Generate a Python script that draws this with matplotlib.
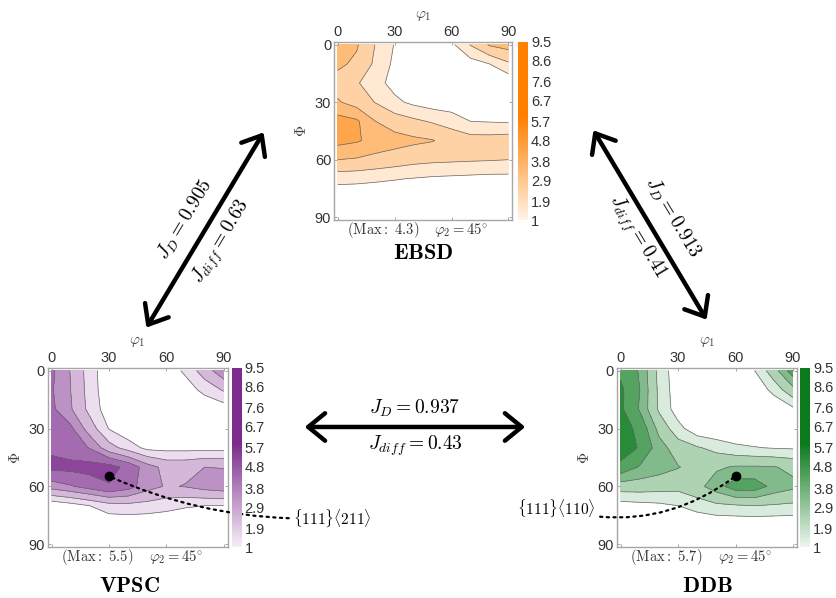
import numpy as np
import matplotlib
matplotlib.use("Agg")
import matplotlib.pyplot as plt
from matplotlib.colors import LinearSegmentedColormap, Normalize
from matplotlib.cm import ScalarMappable
from matplotlib.patches import FancyArrowPatch

plt.rcParams["mathtext.fontset"] = "cm"
plt.rcParams["font.family"] = ["Liberation Sans", "DejaVu Sans"]

# grid of the ODF sections (phi2 = 45 deg), every 10 deg
phi1 = [0, 10, 20, 30, 40, 50, 60, 70, 80, 90]
Phi = [0, 10, 20, 30, 40, 50, 60, 70, 80, 90]

ebsd_odf = [
    [3.7, 3.0, 1.85, 0.95, 0.5, 0.4, 0.8, 1.95, 3.0, 3.3],
    [3.1, 2.7, 1.7, 0.8, 0.4, 0.3, 0.4, 0.6, 1.0, 1.75],
    [2.5, 2.0, 1.3, 0.7, 0.35, 0.3, 0.3, 0.3, 0.3, 0.3],
    [3.0, 2.5, 1.85, 1.2, 0.8, 0.55, 0.45, 0.4, 0.4, 0.4],
    [4.2, 3.95, 2.9, 2.4, 2.1, 1.8, 1.5, 1.0, 0.95, 0.9],
    [4.1, 3.9, 3.5, 3.3, 3.1, 2.95, 2.5, 2.3, 2.3, 2.4],
    [2.9, 2.8, 2.6, 2.4, 2.2, 2.1, 2.05, 2.0, 1.96, 1.9],
    [1.3, 1.25, 1.15, 1.05, 0.95, 0.85, 0.8, 0.75, 0.7, 0.7],
    [0.3, 0.3, 0.3, 0.3, 0.3, 0.3, 0.3, 0.3, 0.3, 0.3],
    [0.2, 0.2, 0.2, 0.2, 0.2, 0.2, 0.2, 0.2, 0.2, 0.2],
]

vpsc_odf = [
    [4.0, 2.85, 1.45, 0.3, 0.1, 0.1, 0.4, 1.2, 2.4, 3.6],
    [3.9, 2.9, 1.5, 0.35, 0.1, 0.1, 0.1, 0.5, 1.3, 2.0],
    [4.0, 3.0, 1.6, 0.5, 0.1, 0.1, 0.1, 0.1, 0.2, 0.5],
    [4.3, 4.0, 2.4, 0.95, 0.3, 0.2, 0.2, 0.2, 0.2, 0.2],
    [4.6, 4.3, 3.75, 2.3, 1.5, 0.75, 0.7, 0.7, 0.7, 0.7],
    [5.1, 5.1, 5.2, 5.2, 4.5, 3.3, 2.6, 2.6, 2.9, 2.85],
    [3.3, 3.7, 4.2, 4.7, 4.2, 3.3, 2.8, 2.95, 3.3, 3.5],
    [0.3, 0.6, 1.0, 1.5, 1.6, 1.5, 1.3, 1.1, 1.0, 1.0],
    [0.1, 0.2, 0.3, 0.3, 0.3, 0.3, 0.3, 0.2, 0.2, 0.2],
    [0.1, 0.1, 0.1, 0.1, 0.1, 0.1, 0.1, 0.1, 0.1, 0.1],
]

ddb_odf = [
    [4.6, 3.7, 1.6, 0.4, 0.1, 0.1, 0.2, 1.0, 2.5, 4.3],
    [5.0, 3.8, 1.7, 0.45, 0.1, 0.1, 0.1, 0.3, 1.3, 2.6],
    [5.0, 3.7, 1.75, 0.55, 0.1, 0.1, 0.1, 0.1, 0.2, 0.8],
    [5.3, 4.5, 2.6, 1.3, 0.4, 0.2, 0.2, 0.2, 0.2, 0.2],
    [5.4, 4.7, 3.3, 2.4, 2.0, 1.6, 1.2, 1.05, 0.95, 0.9],
    [4.5, 3.7, 3.3, 2.95, 2.5, 2.75, 3.0, 3.0, 2.95, 2.7],
    [2.4, 2.4, 2.3, 2.2, 2.6, 3.4, 4.3, 4.3, 3.5, 3.1],
    [0.6, 0.7, 0.8, 1.0, 1.4, 1.7, 1.8, 1.9, 1.8, 1.7],
    [0.1, 0.1, 0.1, 0.15, 0.2, 0.3, 0.3, 0.3, 0.3, 0.3],
    [0.1, 0.1, 0.1, 0.1, 0.1, 0.1, 0.1, 0.1, 0.1, 0.1],
]

levels = [1, 1.9, 2.9, 3.8, 4.8, 5.7, 6.7, 7.6, 8.6, 9.5]
ticks = [0, 30, 60, 90]

# ideal components marked with dots (phi1, Phi)
comp_211 = [30, 54.7]
comp_110 = [60, 54.7]

# similarity indices between the data sets
jd = {"ebsd_vpsc": 0.905, "ebsd_ddb": 0.913, "vpsc_ddb": 0.937}
jdiff = {"ebsd_vpsc": 0.63, "ebsd_ddb": 0.41, "vpsc_ddb": 0.43}

fig = plt.figure(figsize=(8.37, 5.98), dpi=100)


def odf_panel(rect, crect, odf, pale, full, name, max_val):
    ax = fig.add_axes(rect)
    cmap = LinearSegmentedColormap.from_list(name, [(0, pale), (0.58, full), (1, full)])
    norm = Normalize(1, 9.5)
    X, Y = np.meshgrid(phi1, Phi)
    Z = np.array(odf)
    ax.contourf(X, Y, Z, levels=levels, cmap=cmap, norm=norm)
    ax.contour(X, Y, Z, levels=levels, colors="0.4", linewidths=0.5)
    ax.set_xlim(-2, 92)
    ax.set_ylim(91.5, -1.5)
    ax.set_xticks(ticks)
    ax.set_yticks(ticks)
    ax.tick_params(top=True, bottom=True, left=True, right=True, labeltop=True,
                   labelbottom=False, direction="in", length=2.5, width=0.6,
                   color="0.6", labelsize=10.5, labelcolor="0.2", pad=2)
    for s in ax.spines.values():
        s.set_color("0.65")
        s.set_linewidth(1.0)
    ax.xaxis.set_label_position("top")
    ax.set_xlabel(r"$\varphi_1$", fontsize=11, labelpad=5, color="0.25")
    ax.set_ylabel(r"$\Phi$", fontsize=11, labelpad=4, color="0.25")
    ax.text(0.275, -0.055, r"$\mathrm{(Max{:}\ %.1f)}$" % max_val, transform=ax.transAxes,
            ha="center", va="center", fontsize=10.5, color="0.2")
    ax.text(0.71, -0.055, r"$\varphi_2 = 45^{\circ}$", transform=ax.transAxes,
            ha="center", va="center", fontsize=10.5, color="0.2")

    cax = fig.add_axes(crect)
    cb = fig.colorbar(ScalarMappable(norm=norm, cmap=cmap), cax=cax, ticks=levels)
    cb.ax.set_yticklabels([("%g" % v) for v in levels])
    cb.outline.set_visible(False)
    cb.ax.tick_params(length=0, labelsize=10.5, labelcolor="0.2", pad=2)
    return ax


ax_e = odf_panel([0.399, 0.632, 0.213, 0.298], [0.619, 0.632, 0.012, 0.298],
                 ebsd_odf, "#fff3e6", "#ff7f00", "ebsd", 4.3)
ax_v = odf_panel([0.057, 0.085, 0.215, 0.300], [0.277, 0.085, 0.012, 0.300],
                 vpsc_odf, "#f7eef8", "#7b2b8c", "vpsc", 5.5)
ax_d = odf_panel([0.737, 0.085, 0.215, 0.300], [0.956, 0.085, 0.012, 0.300],
                 ddb_odf, "#edf6ee", "#0a7a1c", "ddb", 5.7)

ax_e.text(0.5, -0.19, r"$\mathbf{EBSD}$", transform=ax_e.transAxes, ha="center",
          va="center", fontsize=16)
ax_v.text(0.455, -0.22, r"$\mathbf{VPSC}$", transform=ax_v.transAxes, ha="center",
          va="center", fontsize=16)
ax_d.text(0.5, -0.22, r"$\mathbf{DDB}$", transform=ax_d.transAxes, ha="center",
          va="center", fontsize=16)

# marked components with dotted leaders
ax_v.plot(comp_211[0], comp_211[1], "o", color="black", ms=6, zorder=5)
ax_v.annotate(r"$\{111\}\langle 211\rangle$", xy=comp_211, xycoords="data",
              xytext=(0.350, 0.134), textcoords="figure fraction", ha="left", va="center",
              fontsize=11, annotation_clip=False,
              arrowprops=dict(arrowstyle="-", linestyle=(0, (1, 2)), lw=1.6, color="black",
                              connectionstyle="arc3,rad=-0.12", shrinkA=1, shrinkB=2))
ax_d.plot(comp_110[0], comp_110[1], "o", color="black", ms=6, zorder=5)
ax_d.annotate(r"$\{111\}\langle 110\rangle$", xy=comp_110, xycoords="data",
              xytext=(0.712, 0.150), textcoords="figure fraction", ha="right", va="center",
              fontsize=11, annotation_clip=False,
              arrowprops=dict(arrowstyle="-", linestyle=(0, (1, 2)), lw=1.6, color="black",
                              connectionstyle="arc3,rad=0.25", shrinkA=1, shrinkB=2))

# double arrows between panels
arrow_kw = dict(transform=fig.transFigure, arrowstyle="<->,head_length=0.55,head_width=0.45",
                mutation_scale=22, lw=3.2, color="black")
fig.add_artist(FancyArrowPatch((0.1732, 0.4482), (0.3166, 0.7826), **arrow_kw))
fig.add_artist(FancyArrowPatch((0.7073, 0.7860), (0.8459, 0.4615), **arrow_kw))
fig.add_artist(FancyArrowPatch((0.3608, 0.2860), (0.6308, 0.2860), **arrow_kw))

fs = 14
fig.text(185 / 837, 1 - 220 / 598, r"$J_D = %.3f$" % jd["ebsd_vpsc"], rotation=59,
         ha="center", va="center", fontsize=fs, rotation_mode="anchor")
fig.text(222 / 837, 1 - 242 / 598, r"$J_{diff} = %.2f$" % jdiff["ebsd_vpsc"], rotation=59,
         ha="center", va="center", fontsize=fs, rotation_mode="anchor")
fig.text(673 / 837, 1 - 217 / 598, r"$J_D = %.3f$" % jd["ebsd_ddb"], rotation=-59,
         ha="center", va="center", fontsize=fs, rotation_mode="anchor")
fig.text(637 / 837, 1 - 237 / 598, r"$J_{diff} = %.2f$" % jdiff["ebsd_ddb"], rotation=-59,
         ha="center", va="center", fontsize=fs, rotation_mode="anchor")
fig.text(415 / 837, 1 - 408 / 598, r"$J_D = %.3f$" % jd["vpsc_ddb"],
         ha="center", va="center", fontsize=fs)
fig.text(415 / 837, 1 - 446 / 598, r"$J_{diff} = %.2f$" % jdiff["vpsc_ddb"],
         ha="center", va="center", fontsize=fs)

fig.savefig("out.png", dpi=100, facecolor="white")
